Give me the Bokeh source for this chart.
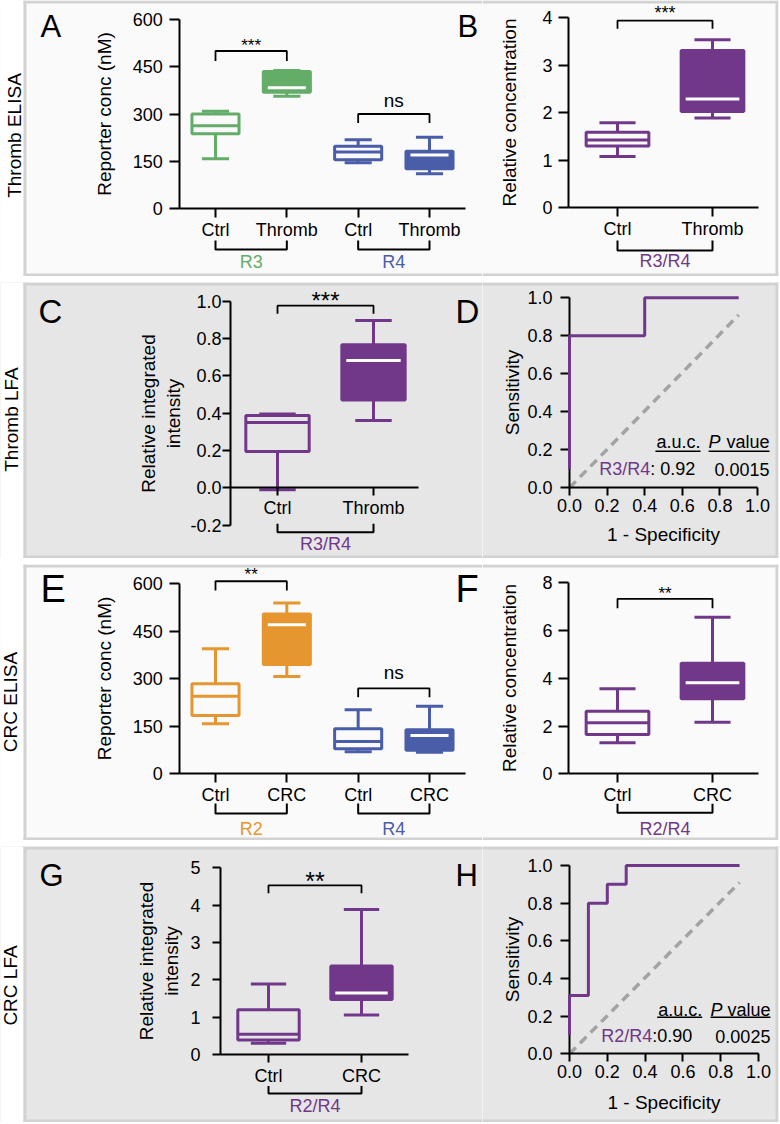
import math
from bokeh.plotting import figure
from bokeh.layouts import row, column
from bokeh.models import (Label, PolyAnnotation, BoxAnnotation, FixedTicker,
                          PrintfTickFormatter, Range1d, Spacer)
from bokeh.embed import file_html
from bokeh.resources import INLINE

# ---------------- data ----------------
row_titles = ["Thromb ELISA", "Thromb LFA", "CRC ELISA", "CRC LFA"]

A_cats = ["Ctrl", "Thromb", "Ctrl", "Thromb"]
A_groups = ["R3", "R4"]
A_low = [158, 356, 145, 110]
A_q1 = [237, 369, 155, 126]
A_med = [263, 383, 179, 170]
A_q3 = [300, 435, 198, 182]
A_high = [309, 438, 218, 226]
A_yticks = [0, 150, 300, 450, 600]

B_cats = ["Ctrl", "Thromb"]
B_group = "R3/R4"
B_low = [1.08, 1.89]
B_q1 = [1.30, 2.03]
B_med = [1.43, 2.29]
B_q3 = [1.59, 3.31]
B_high = [1.79, 3.54]
B_yticks = [0, 1, 2, 3, 4]

C_cats = ["Ctrl", "Thromb"]
C_group = "R3/R4"
C_low = [-0.01, 0.36]
C_q1 = [0.195, 0.471]
C_med = [0.35, 0.682]
C_q3 = [0.387, 0.766]
C_high = [0.396, 0.896]
C_yticks = [-0.2, 0.0, 0.2, 0.4, 0.6, 0.8, 1.0]

D_fpr = [0.0, 0.0, 0.4, 0.4, 0.9]
D_tpr = [0.1, 0.8, 0.8, 1.0, 1.0]
D_name, D_auc, D_p = "R3/R4", "0.92", "0.0015"

E_cats = ["Ctrl", "CRC", "Ctrl", "CRC"]
E_groups = ["R2", "R4"]
E_low = [158, 307, 70, 68]
E_q1 = [184, 345, 79, 74]
E_med = [245, 471, 102, 121]
E_q3 = [284, 505, 142, 139]
E_high = [395, 539, 202, 213]
E_yticks = [0, 150, 300, 450, 600]

F_cats = ["Ctrl", "CRC"]
F_group = "R2/R4"
F_low = [1.30, 2.16]
F_q1 = [1.65, 3.14]
F_med = [2.14, 3.81]
F_q3 = [2.62, 4.63]
F_high = [3.56, 6.56]
F_yticks = [0, 2, 4, 6, 8]

G_cats = ["Ctrl", "CRC"]
G_group = "R2/R4"
G_low = [0.30, 1.06]
G_q1 = [0.39, 1.47]
G_med = [0.54, 1.65]
G_q3 = [1.20, 2.37]
G_high = [1.89, 3.88]
G_yticks = [0, 1, 2, 3, 4, 5]

H_fpr = [0.0, 0.0, 0.1, 0.1, 0.2, 0.2, 0.3, 0.3, 0.9]
H_tpr = [0.1, 0.31, 0.31, 0.8, 0.8, 0.9, 0.9, 1.0, 1.0]
H_name, H_auc, H_p = "R2/R4", "0.90", "0.0025"

roc_ticks = [0.0, 0.2, 0.4, 0.6, 0.8, 1.0]
chance_x = [0.0, 0.9]
chance_y = [0.0, 0.91]

# ---------------- style ----------------
FONT = "Liberation Sans"
GREEN = "#63ad68"
BLUE = "#4a5da9"
PURPLE = "#71388a"
ORANGE = "#e6962f"
BG_LIGHT = "#fafafa"
BG_GREY = "#e6e6e6"
FRAME = "#d2d2d2"

LW, RW, RH = 482, 298, 276
ROW_TOPS = [0, 282, 564, 846]
STAR_K = 0.23


class Panel:
    """One figure whose frame fills its whole canvas; axes are placed with fixed_location."""

    def __init__(self, ox, oy, W, xa, ya, bg):
        kx = (xa[3] - xa[1]) / (xa[2] - xa[0])
        ky = (ya[1] - ya[3]) / (ya[2] - ya[0])
        xlo = xa[0] + (ox - xa[1]) / kx
        xhi = xa[0] + (ox + W - xa[1]) / kx
        yhi = ya[0] + (ya[1] - oy) / ky
        ylo = ya[0] + (ya[1] - (oy + RH)) / ky
        self.ox, self.oy, self.W, self.kx, self.ky = ox, oy, W, kx, ky
        p = figure(width=W, height=RH, x_range=Range1d(xlo, xhi), y_range=Range1d(ylo, yhi),
                   toolbar_location=None, output_backend="svg", min_border=0,
                   background_fill_color=bg, border_fill_color=bg, outline_line_color=None)
        p.xgrid.visible = False
        p.ygrid.visible = False
        self.p = p

    def sx(self, px):
        return px - self.ox

    def sy(self, py):
        return self.oy + RH - py

    def text(self, x, y, t, size, color="black", align="center", xu="screen", yu="screen",
             style="normal", angle=0.0):
        self.p.add_layout(Label(x=x, y=y, x_units=xu, y_units=yu, text=t, angle=angle,
                                text_font=FONT, text_font_size=f"{size}px", text_color=color,
                                text_align=align, text_baseline="middle",
                                text_font_style=style))

    def box(self, l, r, b, t, color):
        self.p.add_layout(BoxAnnotation(left=l, right=r, bottom=b, top=t, left_units="screen",
                                        right_units="screen", bottom_units="screen",
                                        top_units="screen", fill_color=color, fill_alpha=1.0,
                                        line_color=None, level="underlay"))


def style_axis(ax, tick_out, standoff, label_standoff):
    ax.axis_line_width = 2
    ax.axis_line_color = "black"
    ax.major_tick_line_width = 2
    ax.major_tick_line_color = "black"
    ax.major_tick_out = tick_out
    ax.major_tick_in = 0
    ax.minor_tick_line_color = None
    ax.major_label_text_font = FONT
    ax.major_label_text_font_size = "18px"
    ax.major_label_text_color = "black"
    ax.major_label_standoff = standoff
    ax.axis_label_text_font = FONT
    ax.axis_label_text_font_size = "19px"
    ax.axis_label_text_font_style = "normal"
    ax.axis_label_text_color = "black"
    ax.axis_label_standoff = label_standoff


def cat_xaxis(P, cats, at_y, bounds, tick_out, standoff):
    ax = P.p.xaxis[0]
    ax.fixed_location = at_y
    ax.bounds = bounds
    ax.ticker = FixedTicker(ticks=list(range(1, len(cats) + 1)), minor_ticks=[])
    ax.major_label_overrides = {i + 1: c for i, c in enumerate(cats)}
    style_axis(ax, tick_out, standoff, 0)


def num_axis(ax, at, ticks, label, bounds, tick_out, standoff, label_standoff, fmt=None):
    ax.fixed_location = at
    ax.ticker = FixedTicker(ticks=ticks, minor_ticks=[])
    ax.bounds = bounds
    ax.axis_label = label
    if fmt:
        ax.formatter = PrintfTickFormatter(format=fmt)
    style_axis(ax, tick_out, standoff, label_standoff)


def draw_boxes(P, low, q1, med, q3, high, fills, colors, bw=0.66, cw=0.38):
    p = P.p
    for i in range(len(low)):
        x = i + 1
        c = colors[i]
        p.segment(x0=[x, x], y0=[low[i], q3[i]], x1=[x, x], y1=[q1[i], high[i]],
                  line_color=c, line_width=3)
        p.segment(x0=[x - cw / 2] * 2, y0=[low[i], high[i]], x1=[x + cw / 2] * 2,
                  y1=[low[i], high[i]], line_color=c, line_width=3)
        p.vbar(x=[x], width=bw, bottom=[q1[i]], top=[q3[i]],
               fill_color=c if fills[i] else None, line_color=c, line_width=3)
        if fills[i]:
            ins = 4.5 / P.kx
            p.segment(x0=[x - bw / 2 + ins], y0=[med[i]], x1=[x + bw / 2 - ins], y1=[med[i]],
                      line_color="white", line_width=3)
        else:
            p.segment(x0=[x - bw / 2], y0=[med[i]], x1=[x + bw / 2], y1=[med[i]],
                      line_color=c, line_width=3)


def sig(P, x1, x2, y, txt, size, drop_px, center_py, star=True):
    d = drop_px / P.ky
    P.p.line(x=[x1, x1, x2, x2], y=[y - d, y, y, y - d], line_color="black", line_width=1.8)
    anchor = center_py + (STAR_K * size if star else 0)
    P.text((x1 + x2) / 2, P.sy(anchor), txt, size, xu="data")


def group(P, x1, x2, top_py, bot_py, txt, color, center_py):
    yt, yb = P.sy(top_py), P.sy(bot_py)
    P.p.add_layout(PolyAnnotation(xs=[x1, x1, x2, x2, x2, x1], ys=[yt, yb, yb, yt, yb, yb],
                                  xs_units="data", ys_units="screen", fill_color=None,
                                  fill_alpha=0, line_color="black", line_alpha=1.0,
                                  line_width=2))
    P.text((x1 + x2) / 2, P.sy(center_py), txt, 18, color=color, xu="data")


def roc_panel(P, fpr, tpr, name, auc, pval, hdr_y, ul_y, row_y, auc_r, auc_l, pv_l, pv_r,
              name_r, sep, y_std, y_lstd, x_std, x_lstd):
    p = P.p
    num_axis(p.xaxis[0], 0, roc_ticks, "1 - Specificity", (0, 1), 8, x_std, x_lstd, "%.1f")
    num_axis(p.yaxis[0], 0, roc_ticks, "Sensitivity", (0, 1), 9, y_std, y_lstd, "%.1f")
    p.line(chance_x, chance_y, line_color="#a3a3a3", line_width=3.5, line_dash="9 6")
    p.line(fpr, tpr, line_color=PURPLE, line_width=3, level="overlay")
    P.text(auc_r, hdr_y, "a.u.c.", 18, align="right", xu="data", yu="data")
    P.text(pv_l, hdr_y, "P", 18, align="left", xu="data", yu="data", style="italic")
    P.text(pv_r, hdr_y, "value", 18, align="right", xu="data", yu="data")
    p.segment(x0=[auc_l, pv_l], y0=[ul_y, ul_y], x1=[auc_r, pv_r], y1=[ul_y, ul_y],
              line_color="black", line_width=1.5)
    P.text(name_r, row_y, name, 18, color=PURPLE, align="right", xu="data", yu="data")
    P.text(name_r, row_y, sep + auc, 18, align="left", xu="data", yu="data")
    P.text(pv_r, row_y, pval, 18, align="right", xu="data", yu="data")


def frame_left(P, title, tx, ty):
    P.box(0, 23, 0, RH, "white")
    P.box(23, 26, 0, RH, FRAME)
    P.box(23, LW, RH - 3, RH, FRAME)
    P.box(23, LW, 0, 3, FRAME)
    P.text(P.sx(tx), P.sy(ty), title, 19, angle=math.pi / 2)


def frame_right(P):
    P.box(0, RW - 2, RH - 3, RH, FRAME)
    P.box(0, RW - 2, 0, 3, FRAME)
    P.box(RW - 5, RW - 2, 0, RH, FRAME)
    P.box(RW - 2, RW, 0, RH, "white")


# ---------------- row 1 : A, B ----------------
y0 = ROW_TOPS[0]
PA = Panel(0, y0, LW, (1, 215, 4, 429), (0, 208, 600, 19), BG_LIGHT)
frame_left(PA, row_titles[0], 13.5, 135)
cat_xaxis(PA, A_cats, 0, (0.5, 4.5), 9, 2)
num_axis(PA.p.yaxis[0], 0.5, A_yticks, "Reporter conc (nM)", (0, 600), 10, 7, 14)
draw_boxes(PA, A_low, A_q1, A_med, A_q3, A_high, [False, True, False, True],
           [GREEN, GREEN, BLUE, BLUE])
sig(PA, 1, 2, 500, "***", 17, 10, 41.5)
sig(PA, 3, 4, 300, "ns", 19, 9, 100, star=False)
group(PA, 1, 2, 240, 249, A_groups[0], GREEN, 261.5)
group(PA, 3, 4, 240, 249, A_groups[1], BLUE, 261.5)
PA.text(PA.sx(40), PA.sy(26), "A", 31, align="left")
PA.text(PA.sx(457), PA.sy(26), "B", 31, align="left")

PB = Panel(LW, y0, RW, (1, 617, 2, 712), (0, 207.3, 4, 17.3), BG_LIGHT)
frame_right(PB)
cat_xaxis(PB, B_cats, 0, (0.484, 2.484), 9, 2)
num_axis(PB.p.yaxis[0], 0.484, B_yticks, "Relative concentration", (0, 4), 10, 6, 19)
draw_boxes(PB, B_low, B_q1, B_med, B_q3, B_high, [False, True], [PURPLE, PURPLE])
sig(PB, 1, 2, 3.94, "***", 18, 8, 8.8)
group(PB, 1, 2, 240, 250, B_group, PURPLE, 260.5)

# ---------------- row 2 : C, D ----------------
y0 = ROW_TOPS[1]
PC = Panel(0, y0, LW, (1, 277, 2, 373), (0, 487.3, 1, 300.7), BG_GREY)
frame_left(PC, row_titles[1], 11, 419)
cat_xaxis(PC, C_cats, 0, (0.51, 2.47), 8, 2)
num_axis(PC.p.yaxis[0], 0.51, C_yticks, "Relative integrated\nintensity", (-0.2, 1.0),
         8, 1, 3, "%.1f")
draw_boxes(PC, C_low, C_q1, C_med, C_q3, C_high, [False, True], [PURPLE, PURPLE])
sig(PC, 1, 2, 0.976, "***", 24, 8, 294)
group(PC, 1, 2, 523.3, 531.7, C_group, PURPLE, 543.3)
PC.text(PC.sx(38), PC.sy(311), "C", 33, align="left")
PC.text(PC.sx(455), PC.sy(311), "D", 33, align="left")

PD = Panel(LW, y0, RW, (0, 569, 1, 757), (0, 487.3, 1, 297.3), BG_GREY)
frame_right(PD)
roc_panel(PD, D_fpr, D_tpr, D_name, D_auc, D_p, 0.2395, 0.1926, 0.0974,
          0.697, 0.457, 0.74, 1.064, 0.43, ": ", 8, 1, 3, 9)

# ---------------- row 3 : E, F ----------------
y0 = ROW_TOPS[2]
PE = Panel(0, y0, LW, (1, 215, 4, 429), (0, 773.3, 600, 583.3), BG_LIGHT)
frame_left(PE, row_titles[2], 10, 701.5)
cat_xaxis(PE, E_cats, 0, (0.5, 4.5), 9, 2)
num_axis(PE.p.yaxis[0], 0.5, E_yticks, "Reporter conc (nM)", (0, 600), 10, 7, 14)
draw_boxes(PE, E_low, E_q1, E_med, E_q3, E_high, [False, True, False, True],
           [ORANGE, ORANGE, BLUE, BLUE])
sig(PE, 1, 2, 608, "**", 17, 9.3, 570.5)
sig(PE, 3, 4, 270, "ns", 19, 9, 672, star=False)
group(PE, 1, 2, 803, 813, E_groups[0], ORANGE, 828.3)
group(PE, 3, 4, 803, 813, E_groups[1], BLUE, 828.3)
PE.text(PE.sx(40), PE.sy(588.7), "E", 38, align="left")
PE.text(PE.sx(455), PE.sy(588.7), "F", 38, align="left")

PF = Panel(LW, y0, RW, (1, 617, 2, 712), (0, 773.3, 8, 582.3), BG_LIGHT)
frame_right(PF)
cat_xaxis(PF, F_cats, 0, (0.484, 2.484), 9, 2)
num_axis(PF.p.yaxis[0], 0.484, F_yticks, "Relative concentration", (0, 8), 10, 6, 19)
draw_boxes(PF, F_low, F_q1, F_med, F_q3, F_high, [False, True], [PURPLE, PURPLE])
sig(PF, 1, 2, 7.33, "**", 17, 9.4, 588.7)
group(PF, 1, 2, 803.3, 812.3, F_group, PURPLE, 828.3)

# ---------------- row 4 : G, H ----------------
y0 = ROW_TOPS[3]
PG = Panel(0, y0, LW, (1, 268, 2, 361), (0, 1054, 5, 867.3), BG_GREY)
frame_left(PG, row_titles[3], 10, 985)
cat_xaxis(PG, G_cats, 0, (0.484, 2.505), 8, 3)
num_axis(PG.p.yaxis[0], 0.484, G_yticks, "Relative integrated\nintensity", (0, 5), 8, 12, 5)
draw_boxes(PG, G_low, G_q1, G_med, G_q3, G_high, [False, True], [PURPLE, PURPLE])
sig(PG, 1, 2, 4.53, "**", 25, 8, 874.5)
group(PG, 1, 2, 1085.5, 1093, G_group, PURPLE, 1105)
PG.text(PG.sx(39), PG.sy(875), "G", 31, align="left")
PG.text(PG.sx(455), PG.sy(875), "H", 31, align="left")

PHh = Panel(LW, y0, RW, (0, 569, 1, 758), (0, 1053.3, 1, 865), BG_GREY)
frame_right(PHh)
roc_panel(PHh, H_fpr, H_tpr, H_name, H_auc, H_p, 0.2326, 0.194, 0.0945,
          0.702, 0.464, 0.746, 1.063, 0.4375, ":", 8, 1, 3, 11)

# ---------------- layout ----------------
layout = column(
    row(PA.p, PB.p),
    Spacer(width=LW + RW, height=6),
    row(PC.p, PD.p),
    Spacer(width=LW + RW, height=6),
    row(PE.p, PF.p),
    Spacer(width=LW + RW, height=6),
    row(PG.p, PHh.p),
)

open("out.html", "w").write(file_html(layout, INLINE))
